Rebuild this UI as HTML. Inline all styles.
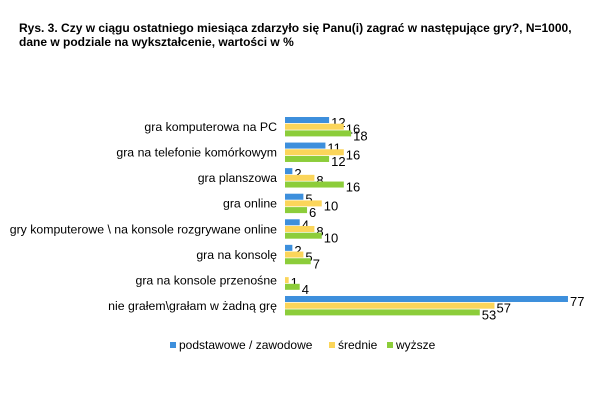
<!DOCTYPE html>
<html><head><meta charset="utf-8"><style>
body{margin:0;background:#fff;font-family:"Liberation Sans",sans-serif;}
#t{position:absolute;left:19px;top:21px;font-size:12px;font-weight:bold;line-height:14px;color:#000;}
</style></head><body>
<div id="t">Rys. 3. Czy w ciągu ostatniego miesiąca zdarzyło się Panu(i) zagrać w następujące gry?, N=1000,<br>dane w podziale na wykształcenie, wartości w %</div>
<svg id="c" width="615" height="400" style="position:absolute;left:0;top:0"></svg>
<script>
const categories=["gra komputerowa na PC","gra na telefonie komórkowym","gra planszowa","gra online","gry komputerowe \\ na konsole rozgrywane online","gra na konsolę","gra na konsole przenośne","nie grałem\\grałam w żadną grę"];
const seriesNames=["podstawowe / zawodowe","średnie","wyższe"];
const podstawowe=[12,11,2,5,4,2,0,77];
const srednie=[16,16,8,10,8,5,1,57];
const wyzsze=[18,12,16,6,10,7,4,53];
const colors=["#3d8fdc","#fbd55a","#8ccd3a"];
const svg=document.getElementById('c');const NS="http://www.w3.org/2000/svg";
const x0=285,k=3.675;
const xs=v=>x0+v*k;
const yc=i=>127+i*25.57;
function mk(t,a){const e=document.createElementNS(NS,t);for(const n in a)e.setAttribute(n,a[n]);svg.appendChild(e);return e;}
const data=[podstawowe,srednie,wyzsze];
categories.forEach((c,i)=>{
 const l=mk('text',{x:277,y:yc(i)+4,'text-anchor':'end','font-size':12.3,fill:'#000'});l.textContent=c;
 
 
 data.forEach((s,j)=>{
  const v=s[i];if(v<=0)return;
  const y=yc(i)-10+j*6.7;
  const r=mk('rect',{x:x0,y:y,width:xs(v)-x0,height:6,fill:colors[j]});
  
  
  const t=mk('text',{x:xs(v)+2,y:y+10,'font-size':13,fill:'#000'});t.textContent=v;
  
  
 });
});
let lx=[170,329,387];
seriesNames.forEach((n,j)=>{
 const r=mk('rect',{x:lx[j],y:342,width:6,height:6,fill:colors[j]});
 
 
 const t=mk('text',{x:lx[j]+9,y:349,'font-size':12,fill:'#000'});t.textContent=n;
 
 
});
</script>
</body></html>
